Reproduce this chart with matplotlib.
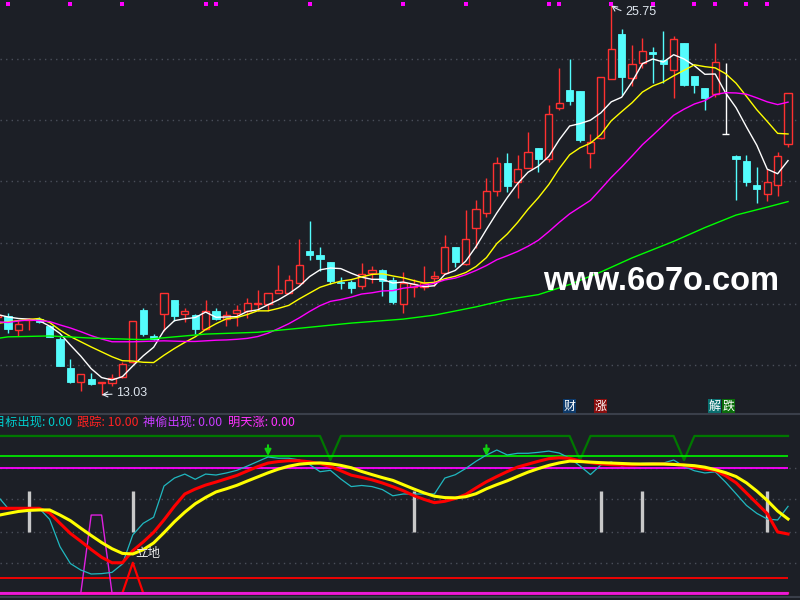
import matplotlib
matplotlib.use("Agg")
import matplotlib.pyplot as plt
import matplotlib.transforms as mtransforms
from matplotlib.patches import Rectangle
from matplotlib.lines import Line2D
import numpy as np

bg = '#1c1f26'
up_col = '#ff3030'
down_col = '#54fcfc'

# daily candles (first one is cut by the left edge)
opens = [15.57, 15.60, 15.14, 15.47, 15.49, 15.29, 14.85, 13.89, 13.46, 13.54,
         13.41, 13.41, 13.61, 14.11, 15.80, 14.95, 15.67, 16.12, 15.67, 15.65,
         15.19, 15.76, 15.50, 15.70, 15.75, 15.98, 16.01, 16.34, 16.35, 16.68,
         17.74, 17.59, 17.37, 16.71, 16.70, 16.57, 17.00, 17.10, 16.79, 15.98,
         16.56, 16.54, 16.83, 17.00, 17.85, 17.29, 18.47, 18.98, 19.70, 20.59,
         19.99, 20.43, 21.08, 20.72, 22.39, 22.99, 22.95, 20.94, 21.41, 23.36,
         24.82, 23.37, 23.88, 24.24, 23.96, 23.63, 24.51, 23.44, 23.04, 22.85,
         21.55, 20.83, 20.66, 19.87, 19.58, 19.87, 21.21]
highs = [15.67, 15.70, 15.44, 15.55, 15.57, 15.31, 14.93, 14.20, 13.69, 13.73,
         13.45, 13.69, 14.10, 15.45, 15.86, 15.01, 16.34, 16.12, 15.86, 15.68,
         16.12, 15.86, 15.76, 15.96, 16.19, 16.45, 16.35, 17.27, 16.94, 18.12,
         18.69, 17.86, 17.37, 16.88, 16.78, 17.32, 17.22, 17.15, 16.89, 17.03,
         16.81, 17.24, 17.07, 18.25, 17.85, 19.07, 19.39, 20.12, 20.81, 20.94,
         20.86, 21.62, 21.08, 22.50, 23.70, 23.99, 22.95, 21.54, 23.40, 25.75,
         24.97, 24.46, 24.68, 24.38, 24.92, 24.75, 24.51, 23.44, 23.04, 24.51,
         23.86, 20.86, 20.86, 20.46, 20.40, 20.95, 22.88]
lows = [15.54, 15.05, 14.95, 15.14, 15.37, 14.90, 13.97, 13.41, 13.15, 13.35,
        13.03, 13.33, 13.59, 14.07, 14.95, 14.82, 15.11, 15.45, 15.39, 15.01,
        15.14, 15.47, 15.29, 15.26, 15.54, 15.78, 15.78, 16.34, 16.34, 16.65,
        17.42, 17.06, 16.65, 16.48, 16.35, 16.48, 16.68, 16.27, 15.99, 15.71,
        16.23, 16.45, 16.58, 16.97, 17.21, 17.27, 17.81, 18.85, 19.53, 19.66,
        19.45, 20.43, 20.32, 20.64, 22.33, 22.50, 21.30, 20.43, 21.40, 23.36,
        22.82, 23.12, 23.70, 23.21, 23.21, 22.74, 23.12, 22.90, 22.33, 22.77,
        21.54, 19.39, 19.85, 19.30, 19.36, 19.53, 21.13]
closes = [15.63, 15.18, 15.34, 15.49, 15.42, 14.93, 13.98, 13.44, 13.69, 13.38,
          13.44, 13.58, 14.03, 15.44, 15.01, 14.85, 16.34, 15.60, 15.76, 15.18,
          15.76, 15.49, 15.65, 15.81, 16.04, 16.03, 16.34, 16.44, 16.78, 17.28,
          17.59, 17.46, 16.73, 16.68, 16.53, 16.96, 17.10, 16.73, 16.06, 16.69,
          16.64, 16.67, 16.91, 17.87, 17.38, 18.11, 19.09, 19.70, 20.59, 19.86,
          20.40, 20.95, 20.72, 22.19, 22.55, 22.64, 21.35, 21.28, 23.40, 24.32,
          23.42, 23.84, 24.25, 24.15, 23.83, 24.64, 23.15, 23.14, 22.74, 23.89,
          21.55, 20.72, 19.99, 19.74, 19.99, 20.82, 22.88]

ma5 = [15.65, 15.57, 15.52, 15.50, 15.45, 15.27, 15.03, 14.65, 14.29, 13.88,
       13.59, 13.51, 13.62, 13.97, 14.30, 14.58, 15.13, 15.45, 15.51, 15.55,
       15.73, 15.56, 15.57, 15.58, 15.75, 15.80, 15.97, 16.13, 16.33, 16.57,
       16.89, 17.11, 17.17, 17.15, 17.00, 16.87, 16.80, 16.80, 16.68, 16.71,
       16.64, 16.56, 16.59, 16.96, 17.09, 17.39, 17.87, 18.43, 18.97, 19.47,
       19.93, 20.30, 20.50, 20.82, 21.36, 21.81, 21.89, 22.00, 22.24, 22.60,
       22.75, 23.25, 23.85, 24.00, 23.90, 24.14, 24.00, 23.78, 23.50, 23.51,
       22.89, 22.41, 21.78, 21.18, 20.40, 20.25, 20.68]
ma10 = [15.36, 15.41, 15.45, 15.49, 15.52, 15.39, 15.14, 14.93, 14.76, 14.59,
        14.43, 14.27, 14.14, 14.13, 14.09, 14.08, 14.32, 14.54, 14.74, 14.92,
        15.16, 15.35, 15.51, 15.55, 15.65, 15.77, 15.77, 15.85, 15.95, 16.16,
        16.35, 16.54, 16.65, 16.74, 16.79, 16.88, 16.96, 16.98, 16.91, 16.85,
        16.76, 16.68, 16.70, 16.82, 16.90, 17.02, 17.22, 17.51, 17.97, 18.28,
        18.66, 19.09, 19.47, 19.90, 20.42, 20.87, 21.10, 21.25, 21.53, 21.98,
        22.28, 22.57, 22.92, 23.12, 23.25, 23.45, 23.63, 23.81, 23.75, 23.71,
        23.52, 23.21, 22.78, 22.34, 21.96, 21.57, 21.55]
ma20 = [15.41, 15.39, 15.44, 15.47, 15.45, 15.42, 15.31, 15.21, 15.09, 14.96,
        14.85, 14.76, 14.76, 14.76, 14.77, 14.78, 14.79, 14.78, 14.77, 14.77,
        14.79, 14.81, 14.82, 14.84, 14.87, 14.93, 15.04, 15.19, 15.35, 15.54,
        15.75, 15.94, 16.08, 16.14, 16.22, 16.32, 16.36, 16.42, 16.43, 16.51,
        16.55, 16.61, 16.67, 16.78, 16.84, 16.95, 17.09, 17.25, 17.44, 17.57,
        17.71, 17.88, 18.08, 18.36, 18.66, 18.94, 19.16, 19.38, 19.75, 20.13,
        20.47, 20.83, 21.20, 21.51, 21.83, 22.16, 22.36, 22.53, 22.64, 22.84,
        22.90, 22.89, 22.85, 22.73, 22.60, 22.51, 22.59]
ma60_idx = [0, 1, 5, 9, 14, 20, 25, 29, 34, 39, 42, 46, 49, 52, 55, 58, 61, 65, 68, 71, 74, 76]
ma60 = [14.87, 14.92, 14.95, 14.88, 14.83, 15.01, 15.07, 15.20, 15.37, 15.50, 15.63,
        15.90, 16.14, 16.30, 16.63, 17.04, 17.50, 18.04, 18.49, 18.90, 19.16, 19.34]

signal_dots = [1, 7, 12, 20, 21, 30, 39, 45, 53, 54, 59, 63, 67, 69, 72, 74]
tags = [(55, '财', '#0d3a6b'), (58, '涨', '#8a0d0d'), (70.25, '跌', '#0a6e0a'), (68.95, '解', '#0a7070')]

# lower indicator
line_k = [61.6, 61.6, 61.6, 61.6, 61.6, 58.2, 50.7, 43.3, 37.6, 31.6,
          26.0, 22.0, 22.0, 30.8, 37.1, 44.1, 53.2, 63.1, 72.0, 75.6,
          78.5, 80.7, 83.1, 85.5, 88.7, 91.9, 94.5, 95.6, 96.2, 96.2,
          95.4, 94.1, 92.0, 88.9, 85.7, 84.1, 82.3, 80.0, 77.3, 74.4,
          70.9, 68.1, 65.7, 66.7, 68.7, 71.6, 76.4, 80.9, 84.7, 88.3,
          91.6, 93.7, 95.8, 97.7, 98.3, 97.9, 96.1, 94.8, 93.8, 93.3,
          93.1, 93.1, 93.5, 93.8, 93.8, 93.5, 93.0, 91.5, 90.1, 89.1,
          85.2, 80.2, 72.7, 65.2, 57.7, 44.4, 42.9]
line_d = [56.4, 57.9, 59.3, 60.1, 60.4, 60.4, 56.7, 52.6, 47.1, 41.8,
          36.7, 32.2, 28.8, 28.4, 31.5, 36.4, 43.9, 51.8, 58.8, 64.9,
          69.5, 73.5, 75.8, 78.3, 81.4, 84.4, 87.4, 90.1, 92.2, 93.7,
          94.3, 94.6, 94.0, 92.8, 91.1, 88.4, 86.1, 83.9, 81.9, 78.8,
          75.7, 72.8, 70.4, 69.4, 69.2, 70.0, 72.2, 75.8, 78.8, 81.6,
          84.8, 87.9, 90.5, 92.8, 94.6, 95.9, 95.6, 95.2, 94.8, 94.5,
          94.2, 93.9, 93.8, 93.8, 93.8, 93.5, 93.1, 92.6, 91.5, 89.7,
          87.5, 84.7, 80.1, 74.1, 67.3, 59.6, 53.8]
line_j = [70.5, 61.6, 61.6, 61.6, 61.6, 53.6, 33.7, 21.4, 16.7, 13.8,
          14.1, 15.0, 21.1, 42.3, 50.7, 55.1, 77.8, 83.6, 86.5, 82.7,
          86.5, 85.8, 87.3, 89.2, 92.3, 95.6, 98.9, 98.0, 98.0, 96.8,
          93.4, 88.2, 89.2, 82.9, 77.4, 78.2, 77.4, 75.2, 70.7, 72.0,
          72.0, 72.0, 72.0, 83.6, 86.0, 90.5, 95.8, 100.3, 104.0, 100.4,
          101.6, 101.6, 102.3, 103.2, 101.8, 98.1, 92.4, 86.1, 93.1, 95.3,
          92.4, 93.5, 94.3, 94.7, 94.5, 96.7, 92.1, 88.9, 87.3, 88.1,
          80.6, 72.2, 63.7, 57.9, 53.8, 53.1, 63.0]
thief = [0] * 9 + [56.7, 56.7] + [0] * 66
ground = [0] * 13 + [22.0] + [0] * 63
guard = [114.2] * 32 + [96.7] + [114.2] * 23 + [96.7] + [114.2] * 9 + [96.7] + [114.2] * 10
levels = [(99.6, '#00e600'), (90.9, '#ff00ff'), (10.9, '#ff0000')]
bars = [3, 13, 40, 58, 62, 74]
arrows = [26, 47]
ind_names = ['目标出现', '跟踪', '神偷出现', '明天涨']
ind_values = [0.00, 10.00, 0.00, 0.00]
ind_colors = ['#00cccc', '#ff2222', '#c83cff', '#ff33ff']
ind_x = [-7, 77, 143, 228]

idx = np.arange(len(closes))

fig = plt.figure(figsize=(8, 6), dpi=100, facecolor=bg)
ax = fig.add_axes([0, 186 / 600, 1, 414 / 600])
ax2 = fig.add_axes([0, 0, 1, 186 / 600])
for a in (ax, ax2):
    a.set_facecolor(bg)
    a.set_xlim(0.23, 77.15)
    a.set_xticks([])
    a.set_yticks([])
    for s in a.spines.values():
        s.set_visible(False)
ax.set_ylim(12.399, 25.928)
ax2.set_ylim(-5.09, 130.18)

dots = dict(color='#4a4f5a', lw=1.0, ls=(0, (1, 3)))
for g in [14, 16, 18, 20, 22, 24]:
    ax.axhline(g, zorder=0, **dots)
for g in [21.8, 44.4, 68.4, 90.9]:
    ax2.axhline(g, zorder=0, **dots)

# candles
w = 0.7
for j in idx:
    o, h, l, c = opens[j], highs[j], lows[j], closes[j]
    if c > o:
        ax.vlines(j, c, h, color=up_col, lw=1.0, zorder=2)
        ax.vlines(j, l, o, color=up_col, lw=1.0, zorder=2)
        ax.add_patch(Rectangle((j - w / 2, o), w, c - o, facecolor=bg,
                               edgecolor=up_col, lw=1.0, zorder=2))
    elif c < o:
        ax.vlines(j, l, h, color=down_col, lw=1.0, zorder=2)
        ax.add_patch(Rectangle((j - w / 2, c), w, o - c, facecolor=down_col,
                               edgecolor=down_col, lw=0.6, zorder=2))
    else:
        ax.vlines(j, l, h, color='white', lw=1.0, zorder=2)
        ax.hlines(o, j - w / 2, j + w / 2, color='white', lw=1.0, zorder=2)

ax.plot(idx, ma5, color='white', lw=1.0, zorder=3)
ax.plot(idx, ma10, color='#ffff00', lw=1.0, zorder=3)
ax.plot(idx, ma20, color='#ff00ff', lw=1.0, zorder=3)
ax.plot(ma60_idx, ma60, color='#00ff00', lw=1.0, zorder=3)

top = mtransforms.blended_transform_factory(ax.transData, ax.transAxes)
ax.scatter(signal_dots, [1 - 4.3 / 414] * len(signal_dots), transform=top,
           marker='s', s=6, color='#ff00ff', lw=0, zorder=4)
for j, t, c in tags:
    ax.text(j, 0.018, t, transform=top, ha='center', va='center', color='white',
            fontsize=8.6, family=['Noto Sans CJK SC', 'DejaVu Sans'], zorder=5,
            bbox=dict(boxstyle='square,pad=0.05', fc=c, ec='none'))

hi_j = int(np.argmax(highs))
lo_j = int(np.argmin(lows))
txt_col = '#dfe6ef'
ax.annotate(f"{highs[hi_j]:.2f}", xy=(hi_j, highs[hi_j]), xytext=(10, -5),
            textcoords='offset points', ha='left', va='center', color=txt_col,
            fontsize=9, family='Liberation Sans',
            arrowprops=dict(arrowstyle='->', color=txt_col, lw=0.8,
                            shrinkA=1, shrinkB=0, connectionstyle='arc3,rad=-0.2'))
ax.annotate(f"{lows[lo_j]:.2f}", xy=(lo_j, lows[lo_j]), xytext=(10.5, 1),
            textcoords='offset points', ha='left', va='center', color=txt_col,
            fontsize=9, family='Liberation Sans',
            arrowprops=dict(arrowstyle='->', color=txt_col, lw=0.8,
                            shrinkA=1, shrinkB=0))

fig.text(543 / 800, 1 - 290 / 600, 'www.6o7o.com', color='white', fontsize=23.5,
         fontweight='bold', family='Liberation Sans', ha='left', va='baseline')

# lower panel
ax2.plot(idx, guard, color='#007800', lw=1.6, zorder=2)
for v, c in levels:
    ax2.hlines(v, idx[0], idx[-1], color=c, lw=1.3, zorder=2)
ax2.plot(idx, ground, color='#ff0000', lw=1.6, zorder=2)
ax2.hlines(0, idx[0], idx[-1], color='#ff10d0', lw=2.0, zorder=3)
ax2.plot(idx, thief, color='#e020e0', lw=1.0, zorder=3)
ax2.vlines(bars, 44.6, 74.2, color='#c8c8c8', lw=2.4, zorder=3)
ax2.plot(idx, line_j, color='#20b8c0', lw=0.9, zorder=4)
ax2.plot(idx, line_k, color='#ff0000', lw=2.2, zorder=5)
ax2.plot(idx, line_d, color='#ffff00', lw=2.2, zorder=6)
for j in arrows:
    ax2.annotate('', xy=(j, 99.6), xytext=(j, 107.5),
                 arrowprops=dict(arrowstyle='-|>', color='#10d010', lw=1.5,
                                 mutation_scale=9, shrinkA=0, shrinkB=0), zorder=7)
ax2.text(13.25, 28.7, '立地', color='#e8e8e8', fontsize=9, ha='left', va='center',
         family=['Noto Sans CJK SC', 'DejaVu Sans'], zorder=8)

for name, val, c, x in zip(ind_names, ind_values, ind_colors, ind_x):
    fig.text(x / 800, 1 - 422 / 600, f"{name}: {val:.2f}", color=c, fontsize=8.8,
             ha='left', va='center', family=['Noto Sans CJK SC', 'DejaVu Sans'])

for yp in (414, 597):
    fig.add_artist(Line2D([0, 1], [1 - yp / 600] * 2, color='#3a3f4a', lw=1.5,
                          transform=fig.transFigure))

fig.savefig('out.png', dpi=100, facecolor=bg)
